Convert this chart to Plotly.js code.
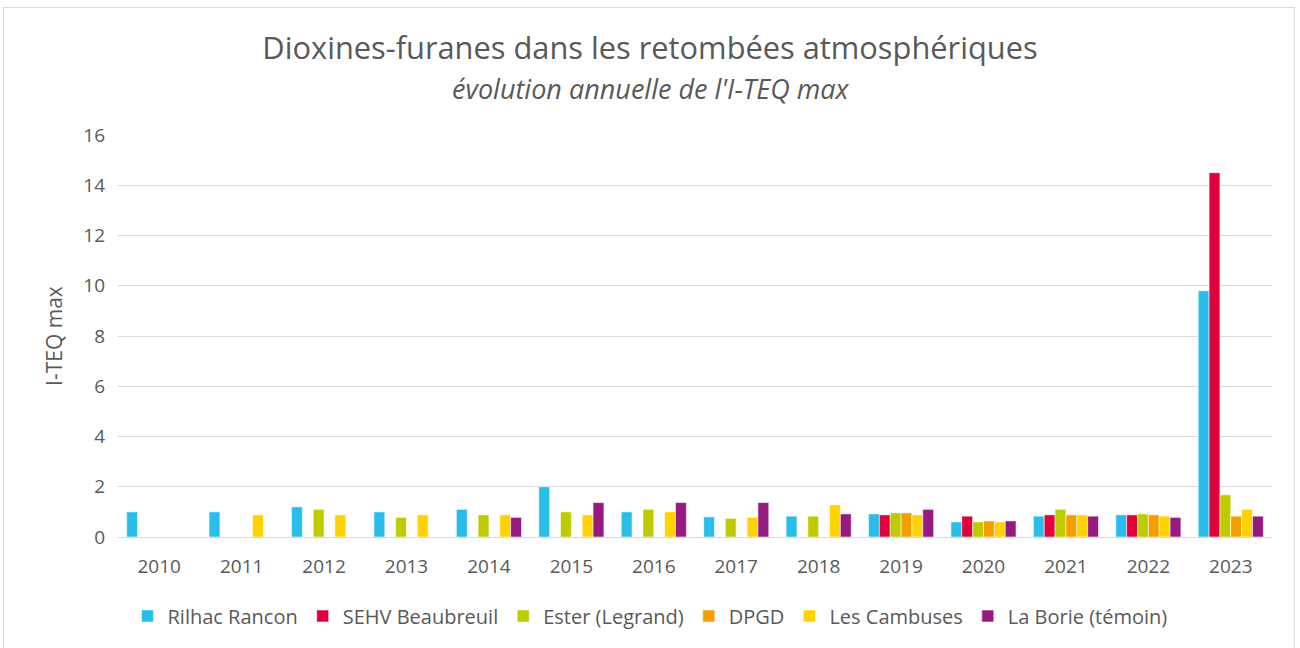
<!DOCTYPE html>
<html>
<head>
<meta charset="utf-8">
<script src="https://cdn.plot.ly/plotly-3.0.1.min.js"></script>
<style>
  html, body { margin: 0; padding: 0; background: #fff; }
  #frame { position: absolute; left: 3px; top: 7px; width: 1292px; height: 660px; border: 1.5px solid #D9D9D9; box-sizing: border-box; }
  #chart { position: absolute; left: 0; top: 0; width: 1300px; height: 648px; }
</style>
</head>
<body>
<div id="frame"></div>
<div id="chart"></div>
<script>
const years = ['2010','2011','2012','2013','2014','2015','2016','2017','2018','2019','2020','2021','2022','2023'];

const rilhacRancon    = [1.0, 1.0, 1.2, 1.0, 1.1, 2.0, 1.0, 0.8, 0.83, 0.92, 0.6, 0.83, 0.88, 9.8];
const sehvBeaubreuil  = [null, null, null, null, null, null, null, null, null, 0.88, 0.83, 0.88, 0.88, 14.5];
const esterLegrand    = [null, null, 1.1, 0.78, 0.88, 1.0, 1.1, 0.74, 0.83, 0.96, 0.6, 1.1, 0.92, 1.68];
const dpgd            = [null, null, null, null, null, null, null, null, null, 0.96, 0.64, 0.88, 0.88, 0.83];
const lesCambuses     = [null, 0.88, 0.88, 0.88, 0.88, 0.88, 1.0, 0.78, 1.28, 0.88, 0.6, 0.88, 0.83, 1.1];
const laBorie         = [null, null, null, null, 0.78, 1.37, 1.37, 1.37, 0.92, 1.1, 0.64, 0.83, 0.78, 0.83];

const seriesNames  = ['Rilhac Rancon', 'SEHV Beaubreuil', 'Ester (Legrand)', 'DPGD', 'Les Cambuses', 'La Borie (témoin)'];
const seriesValues = [rilhacRancon, sehvBeaubreuil, esterLegrand, dpgd, lesCambuses, laBorie];
const seriesColors = ['#29BDEA', '#E0003C', '#BDCC00', '#F59E00', '#FFD200', '#951B81'];

const traces = seriesNames.map((name, i) => ({
  type: 'bar',
  name: name,
  x: years,
  y: seriesValues[i],
  marker: { color: seriesColors[i], line: { color: 'rgba(255,255,255,0.55)', width: 1 } },
  hoverinfo: 'x+y+name'
}));

const textColor = '#595959';
const fontFam = '"Open Sans", "Noto Sans", sans-serif';

const layout = {
  width: 1300,
  height: 648,
  paper_bgcolor: 'rgba(0,0,0,0)',
  plot_bgcolor: 'rgba(0,0,0,0)',
  margin: { l: 118, r: 28, t: 135, b: 111 },
  font: { family: fontFam, color: textColor, size: 19 },
  barmode: 'group',
  bargap: 0.21,
  bargroupgap: 0,
  title: {
    text: 'Dioxines-furanes dans les retombées atmosphériques',
    font: { family: fontFam, size: 30.8, color: textColor },
    x: 0.5, xanchor: 'center', xref: 'container',
    y: 1 - 48/648, yanchor: 'middle', yref: 'container'
  },
  annotations: [{
    text: '<i>évolution annuelle de l\'I-TEQ max</i>',
    xref: 'paper', yref: 'paper',
    x: (651 - 118) / 1154, y: (537 - 89) / 402, xanchor: 'center', yanchor: 'middle',
    showarrow: false,
    font: { family: fontFam, size: 27, color: textColor }
  }],
  xaxis: {
    type: 'category',
    showgrid: false,
    zeroline: false,
    showline: false,
    ticks: '',
    tickfont: { size: 19, color: textColor },
    ticklabelstandoff: 16
  },
  yaxis: {
    range: [0, 16],
    dtick: 2,
    showgrid: true,
    gridcolor: '#D9D9D9',
    gridwidth: 1.3,
    zeroline: true,
    zerolinecolor: '#D9D9D9',
    zerolinewidth: 1.3,
    showline: false,
    ticks: '',
    tickfont: { size: 19, color: textColor },
    ticklabelstandoff: 12,
    title: { text: 'I-TEQ max', font: { size: 21, color: textColor }, standoff: 14 }
  },
  legend: {
    orientation: 'h',
    x: 0.5, xanchor: 'center', xref: 'container',
    y: 1 - 616/648, yanchor: 'middle', yref: 'container',
    font: { size: 20, color: textColor },
    itemwidth: 20,
    traceorder: 'normal'
  },
  showlegend: true
};

Plotly.newPlot('chart', traces, layout, { displayModeBar: false });
</script>
</body>
</html>
